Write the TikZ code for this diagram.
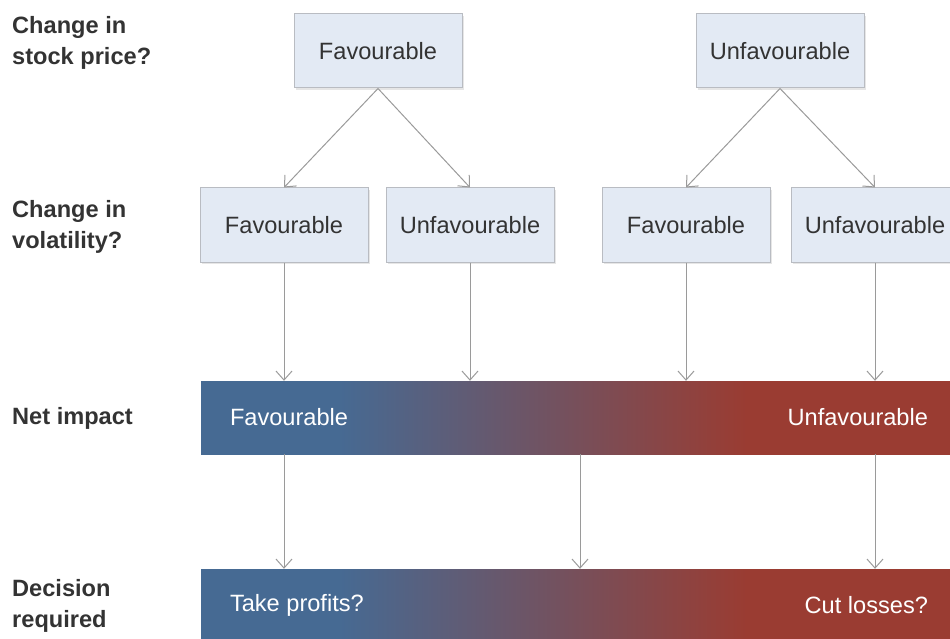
\documentclass[tikz,border=0pt]{standalone}
\usepackage{fontspec}
\setmainfont{Liberation Sans}
\usepackage{tikz}
\usetikzlibrary{arrows.meta,shadows}
\definecolor{boxfill}{HTML}{E3EAF4}
\definecolor{boxline}{HTML}{B9BCC2}
\definecolor{arrgray}{HTML}{9A9A9A}
\definecolor{txtdark}{HTML}{333333}
\definecolor{favblue}{RGB}{70,106,147}
\definecolor{unfred}{RGB}{154,60,50}
\pgfdeclarehorizontalshading{riskbar}{100bp}{color(0bp)=(favblue); color(34bp)=(favblue); color(61bp)=(unfred); color(100bp)=(unfred)}
\tikzstyle{lvl}=[anchor=west,align=left,font=\fontsize{23.6}{31}\selectfont\bfseries,text=txtdark,inner sep=0pt]
\tikzstyle{box}=[rectangle,draw=boxline,fill=boxfill,line width=1pt,minimum width=168pt,minimum height=74pt,inner sep=0pt,text=txtdark,font=\fontsize{23.6}{28}\selectfont,drop shadow={opacity=0.2,shadow xshift=2pt,shadow yshift=-2pt}]
\tikzstyle{bar}=[rectangle,shading=riskbar,minimum width=758pt,minimum height=73pt,inner sep=0pt]
\tikzstyle{bartext}=[text=white,font=\fontsize{23.6}{28}\selectfont,inner sep=0pt]
\tikzstyle{arr}=[-{Straight Barb[length=9pt,width=16pt]},draw=arrgray,line width=1pt]

\begin{document}
\begin{tikzpicture}[x=1pt,y=-1pt]
    \useasboundingbox (0,0) rectangle (950,639);
    % row labels
    \node[lvl] (lstock) at (12,43) {Change in\\stock price?};
    \node[lvl] (lvol) at (12,227) {Change in\\volatility?};
    \node[lvl] (lnet) at (12,418) {Net impact};
    \node[lvl] (ldec) at (12,606) {Decision\\required};
    % stock price
    \node[box] (sfav) at (378,51) {Favourable};
    \node[box] (sunf) at (780,51) {Unfavourable};
    % volatility
    \node[box] (vfav1) at (284,225) {Favourable};
    \node[box] (vunf1) at (470,225) {Unfavourable};
    \node[box] (vfav2) at (686,225) {Favourable};
    \node[box] (vunf2) at (875,225) {Unfavourable};
    % net impact and decision
    \node[bar] (net) at (580,417.5) {};
    \node[bar] (dec) at (580,605.5) {};
    \node[bartext,anchor=west] (netfav) at ([xshift=29pt]net.west) {Favourable};
    \node[bartext,anchor=east] (netunf) at ([xshift=-31pt]net.east) {Unfavourable};
    \node[bartext,anchor=west] (decfav) at ([xshift=29pt]dec.west) {Take profits?};
    \node[bartext,anchor=east] (decunf) at ([xshift=-31pt]dec.east) {Cut losses?};
    \draw[arr] (sfav.south) -- (vfav1.north);
    \draw[arr] (sfav.south) -- (vunf1.north);
    \draw[arr] (sunf.south) -- (vfav2.north);
    \draw[arr] (sunf.south) -- (vunf2.north);
    \draw[arr] (vfav1.south) -- (vfav1 |- net.north);
    \draw[arr] (vunf1.south) -- (vunf1 |- net.north);
    \draw[arr] (vfav2.south) -- (vfav2 |- net.north);
    \draw[arr] (vunf2.south) -- (vunf2 |- net.north);
    \draw[arr] (vfav1 |- net.south) -- (vfav1 |- dec.north);
    \draw[arr] (net.south) -- (dec.north);
    \draw[arr] (vunf2 |- net.south) -- (vunf2 |- dec.north);
  \end{tikzpicture}
\end{document}
